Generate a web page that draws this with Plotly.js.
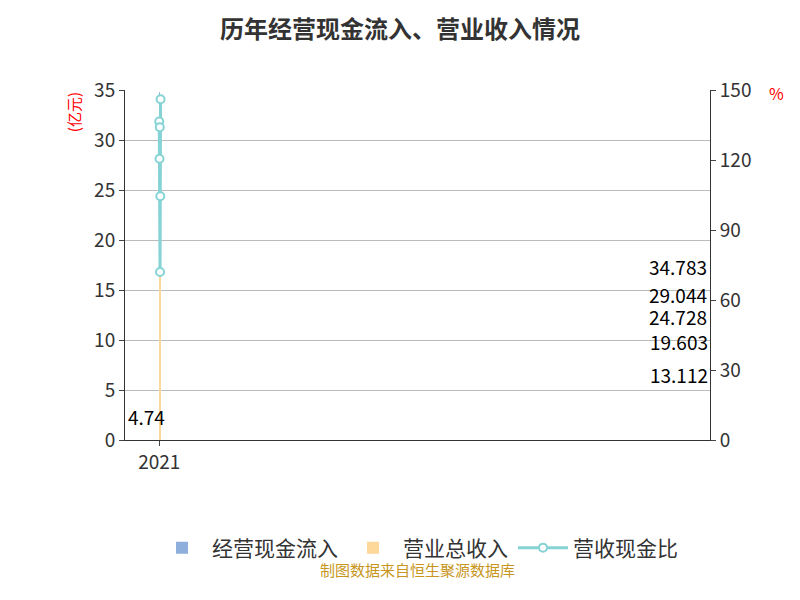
<!DOCTYPE html>
<html><head><meta charset="utf-8">
<script src="https://cdn.plot.ly/plotly-3.0.1.min.js"></script>
</head><body style="margin:0">
<div id="chart" style="width:800px;height:600px"></div>
<script>
const years = ['2021', '2022', '2023', '2024', '2025', '2026H1'];
const cashIn = [24.728, 29.044, 34.783, 13.112, 19.603, 4.74];
const revenue = [18.1, 24.1, 25.9, 18.2, 18.8, 3.3];
const ratio = [136.5, 120.5, 134, 72, 104.5, 146];

const data = [
    {x: years, y: cashIn, type: 'bar', name: '经营现金流入', marker: {color: '#8eaedb'}},
    {x: years, y: revenue, type: 'bar', name: '营业总收入', marker: {color: '#fdd89a'}},
    {x: years, y: ratio, type: 'scatter', mode: 'lines+markers', name: '营收现金比', yaxis: 'y2',
     line: {color: '#86d3d5', width: 3},
     marker: {color: '#fff', size: 8, line: {color: '#86d3d5', width: 2}}}
];

const annotations = years.map((yr, i) => ({
    x: yr, y: cashIn[i] / 2, text: String(cashIn[i]), showarrow: false,
    xshift: -14, font: {size: 19, color: '#000'}
}));
annotations.push(
    {xref: 'paper', yref: 'paper', x: 0.5, y: -0.405, text: '制图数据来自恒生聚源数据库',
     showarrow: false, font: {size: 15, color: '#c8961e'}},
    {xref: 'paper', yref: 'paper', x: -0.11, y: 1.0, yanchor: 'top', textangle: -90,
     text: '(亿元)', showarrow: false, font: {size: 15, color: 'red'}},
    {xref: 'paper', yref: 'paper', x: 1.13, y: 1.03, text: '%', showarrow: false,
     font: {size: 16, color: 'red'}}
);

const layout = {
    width: 800, height: 600,
    margin: {l: 125, r: 90, t: 90, b: 160},
    font: {family: 'Noto Sans CJK SC', color: '#333'},
    title: {text: '<b>历年经营现金流入、营业收入情况</b>', x: 0.5, y: 0.965, font: {size: 24, color: '#333'}},
    barmode: 'group', bargap: 0.18, bargroupgap: 0.15,
    showlegend: true,
    legend: {orientation: 'h', x: 0.5, xanchor: 'center', y: -0.25, font: {size: 21}, itemwidth: 50},
    xaxis: {type: 'category', showline: true, linecolor: '#333', ticks: 'outside', tickfont: {size: 19}},
    yaxis: {range: [0, 35], dtick: 5, showline: true, linecolor: '#333', ticks: 'outside',
            gridcolor: '#bbb', tickfont: {size: 19}},
    yaxis2: {overlaying: 'y', side: 'right', range: [0, 150], dtick: 30, showline: true,
             linecolor: '#333', ticks: 'outside', showgrid: false, tickfont: {size: 19}},
    annotations: annotations,
    plot_bgcolor: '#fff', paper_bgcolor: '#fff'
};
Plotly.newPlot('chart', data, layout, {displayModeBar: false});
</script>
</body></html>
